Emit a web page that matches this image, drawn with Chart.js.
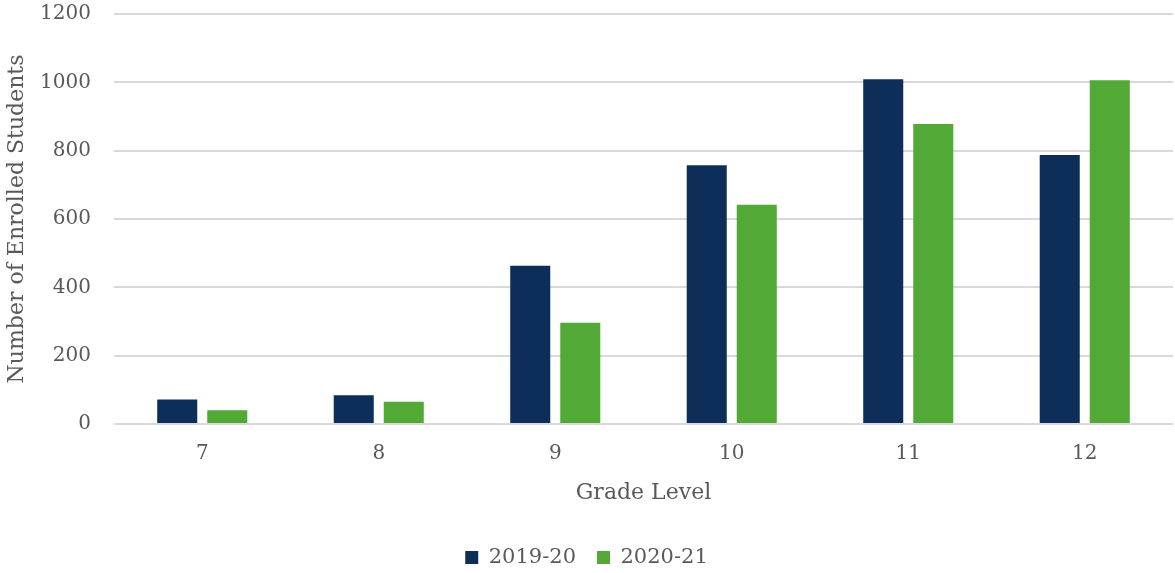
<!DOCTYPE html>
<html>
<head>
<meta charset="utf-8">
<script src="https://cdn.jsdelivr.net/npm/chart.js@4"></script>
<style>
html,body{margin:0;padding:0;background:#fff;}
#wrap{width:1175px;height:573px;position:relative;}
</style>
</head>
<body>
<div id="wrap"><canvas id="c" width="1175" height="573"></canvas></div>
<script>
const categories = ["7", "8", "9", "10", "11", "12"];
const series2019 = [72, 84, 463, 757, 1009, 787];
const series2020 = [40, 65, 296, 642, 878, 1006];
const seriesNames = ["2019-20", "2020-21"];
const yTicks = [0, 200, 400, 600, 800, 1000, 1200];

const FONT = "'DejaVu Serif', serif";
const TXT = "#595959";

new Chart(document.getElementById('c'), {
  type: 'bar',
  data: {
    labels: categories,
    datasets: [
      { label: seriesNames[0], data: series2019, backgroundColor: '#0c2e58', borderWidth: 0 },
      { label: seriesNames[1], data: series2020, backgroundColor: '#52a935', borderWidth: 0 }
    ]
  },
  options: {
    responsive: false,
    animation: false,
    devicePixelRatio: 1,
    layout: { padding: { top: 14, right: 2, left: 0, bottom: -5 } },
    datasets: { bar: { categoryPercentage: 0.567, barPercentage: 0.8 } },
    plugins: {
      legend: {
        position: 'bottom',
        labels: {
          color: TXT,
          font: { family: FONT, size: 21 },
          boxWidth: 13, boxHeight: 13,
          padding: 21
        }
      },
      tooltip: { enabled: false }
    },
    scales: {
      x: {
        grid: { display: false, drawTicks: false },
        border: { display: false },
        ticks: { color: TXT, font: { family: FONT, size: 20 }, padding: 18 },
        title: { display: true, text: 'Grade Level', color: TXT, font: { family: FONT, size: 22 }, padding: { top: 10, bottom: 20 } },
        afterFit: (s) => { s.height = 102; }
      },
      y: {
        min: 0, max: 1200,
        afterBuildTicks: (s) => { s.ticks = yTicks.map(v => ({ value: v })); },
        grid: { color: '#d9d9d9', lineWidth: 2, drawTicks: true, tickLength: 23, tickColor: 'rgba(0,0,0,0)' },
        border: { display: false },
        ticks: { color: TXT, font: { family: FONT, size: 20 }, padding: 0, callback: (v) => String(v) },
        title: { display: true, text: 'Number of Enrolled Students', color: TXT, font: { family: FONT, size: 22 }, padding: { top: 4, bottom: 8 } },
        afterFit: (s) => { s.width = 114; }
      }
    }
  }
});
</script>
</body>
</html>
